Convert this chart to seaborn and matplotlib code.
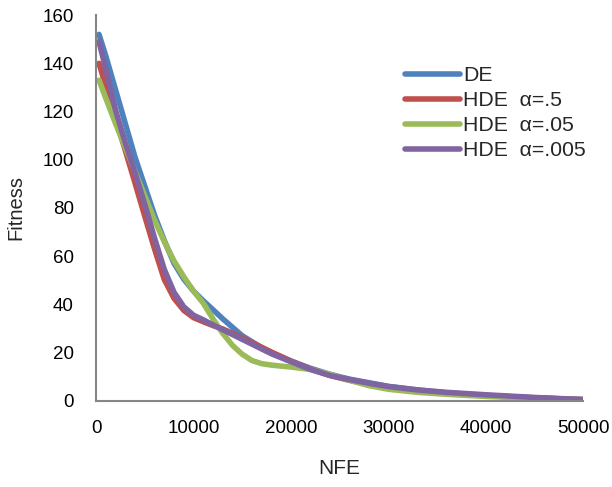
import pandas as pd
import matplotlib
matplotlib.use("Agg")
import matplotlib.pyplot as plt
import seaborn as sns

# values
nfe = [300, 1000, 2000, 3000, 4000, 5000, 6000, 7000, 8000, 9000, 10000,
       11000, 12000, 13000, 14000, 15000, 16000, 17000, 18000, 20000, 22000,
       24000, 26000, 28000, 30000, 33000, 36000, 40000, 45000, 50000]
de = [152, 143, 129, 115, 101, 89, 77, 66.5, 57, 50.5, 45.5,
      41.5, 37.8, 34, 30.5, 27, 24.5, 22, 20, 16.5, 13.5,
      11, 9, 7.5, 6, 4.5, 3.3, 2.2, 1.2, 0.5]
hde_5 = [140, 130.5, 117, 103.8, 90.3, 76.5, 63, 50.3, 42.5, 37.5, 34.5,
         32.8, 31.2, 29.8, 28, 26.2, 24.2, 22.2, 20.2, 16.5, 13.2,
         10.5, 8.5, 7, 5.6, 4.2, 3.2, 2.2, 1.2, 0.5]
hde_05 = [133, 125.5, 115, 105, 95, 85, 75, 66, 58, 51.5, 45.5,
          40.5, 34, 28, 23, 19.3, 16.7, 15.4, 14.8, 14, 13,
          11, 8.5, 6.3, 4.8, 3.5, 2.7, 1.8, 1, 0.5]
hde_005 = [149, 137.5, 120.5, 107, 94.5, 81.5, 67.5, 54.5, 45, 39, 35.5,
           33.6, 31.5, 29.5, 27.5, 25.5, 23.5, 21.5, 19.5, 16.2, 13,
           10.5, 8.8, 7.3, 5.9, 4.5, 3.5, 2.5, 1.4, 0.5]

names = ["DE", "HDE  \u03b1=.5", "HDE  \u03b1=.05", "HDE  \u03b1=.005"]
colors = ["#4F81BD", "#C0504D", "#9BBB59", "#8064A2"]

frames = []
for name, vals in zip(names, [de, hde_5, hde_05, hde_005]):
    frames.append(pd.DataFrame({"NFE": nfe, "Fitness": vals, "series": name}))
df = pd.concat(frames, ignore_index=True)

sns.set_style("white")
plt.rcParams["font.family"] = ["Liberation Sans", "DejaVu Sans"]

fig = plt.figure(figsize=(6.12, 4.87), dpi=100)
ax = fig.add_axes([0.157, 0.177, 0.796, 0.792])

sns.lineplot(data=df, x="NFE", y="Fitness", hue="series", hue_order=names,
             palette=colors, linewidth=4, sort=False, ax=ax,
             solid_capstyle="round", solid_joinstyle="round")

ax.set_xlim(0, 50000)
ax.set_ylim(0, 160)
ax.set_xticks(range(0, 50001, 10000))
ax.set_yticks(range(0, 161, 20))

gray = "#868686"
for s in ["top", "right"]:
    ax.spines[s].set_visible(False)
for s in ["left", "bottom"]:
    ax.spines[s].set_color(gray)
    ax.spines[s].set_linewidth(1.5)
ax.tick_params(axis="both", colors=gray, labelcolor="black", labelsize=13.5,
               length=6, width=1.5, direction="out")
ax.tick_params(axis="x", pad=7.5)
ax.tick_params(axis="y", pad=10)
ax.set_xlabel("NFE", fontsize=15)
ax.set_ylabel("Fitness", fontsize=14.5)
ax.xaxis.set_label_coords(0.5, -0.152)
ax.yaxis.set_label_coords(-0.146, 0.5)

handles, labels = ax.get_legend_handles_labels()
for h in handles:
    h.set_linewidth(4)
    h.set_solid_capstyle("round")
ax.legend(handles, labels, loc="upper left", bbox_to_anchor=(0.662, 0.864),
          bbox_transform=fig.transFigure, frameon=False, fontsize=15.3,
          handlelength=2.6, handletextpad=0.13, labelspacing=0.28,
          borderpad=0, borderaxespad=0)

fig.savefig("out.png", dpi=100)
